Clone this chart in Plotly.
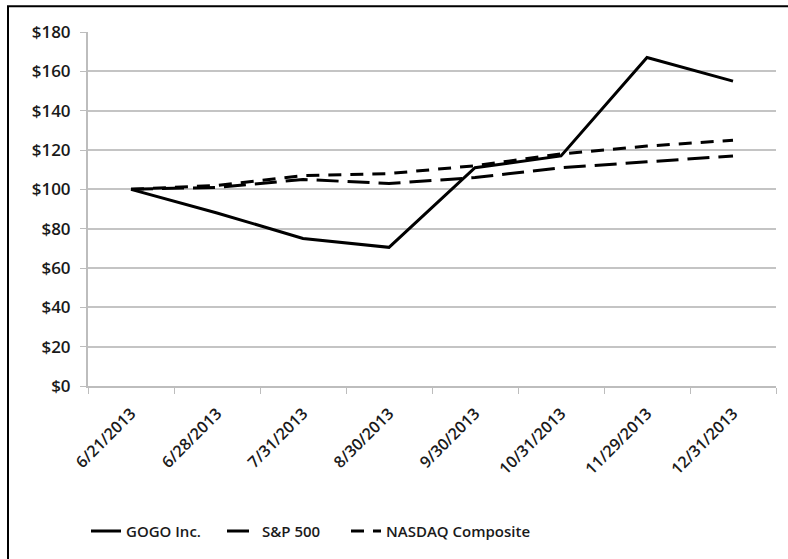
import plotly.graph_objects as go

dates = ["6/21/2013", "6/28/2013", "7/31/2013", "8/30/2013", "9/30/2013",
         "10/31/2013", "11/29/2013", "12/31/2013"]
gogo = [100, 88, 75, 70.5, 111, 117, 167, 155]
sp500 = [100, 101, 105, 103, 106, 111, 114, 117]
nasdaq = [100, 102, 107, 108, 112, 118, 122, 125]
y_ticks = [0, 20, 40, 60, 80, 100, 120, 140, 160, 180]
y_labels = ["$" + str(v) for v in y_ticks]

FONT = "Open Sans"
PLOT_L, PLOT_W = 88, 688

fig = go.Figure()
fig.add_trace(go.Scatter(x=dates, y=gogo, name="GOGO Inc.", mode="lines",
                         line=dict(color="black", width=3), legend="legend"))
fig.add_trace(go.Scatter(x=dates, y=sp500, name="S&P 500", mode="lines",
                         line=dict(color="black", width=3, dash="22px,9px"),
                         legend="legend2"))
fig.add_trace(go.Scatter(x=dates, y=nasdaq, name="NASDAQ Composite", mode="lines",
                         line=dict(color="black", width=3, dash="13px,9px"),
                         legend="legend3"))

def leg(px_left):
    return dict(orientation="h", x=(px_left - 7 - PLOT_L) / PLOT_W, xanchor="left",
                y=-0.41, yanchor="middle",
                font=dict(size=15, color="#1a1a1a", weight=600),
                bgcolor="rgba(0,0,0,0)")

fig.update_layout(
    width=788, height=559,
    margin=dict(l=88, r=12, t=32, b=168),
    paper_bgcolor="white", plot_bgcolor="white",
    font=dict(family=FONT, size=15, color="#1a1a1a"),
    showlegend=True,
    legend=leg(93), legend2=leg(229), legend3=leg(353),
    xaxis=dict(type="category", tickangle=-45, showgrid=False, automargin=False,
               showline=True, linecolor="#bdbdbd", linewidth=2,
               ticks="outside", tickson="boundaries", ticklen=6, tickcolor="#bdbdbd",
               tickwidth=1, tickfont=dict(size=16, color="#1a1a1a", weight=600),
               ticklabelstandoff=10,
               range=[-0.5, 7.5]),
    yaxis=dict(range=[0, 180], tickvals=y_ticks, ticktext=y_labels, automargin=False,
               showgrid=True, gridcolor="#c4c4c4", gridwidth=2,
               showline=True, linecolor="#bdbdbd", linewidth=2,
               ticks="outside", ticklen=6, tickcolor="#bdbdbd", tickwidth=1,
               ticklabelstandoff=6,
               zeroline=False, tickfont=dict(size=17, color="#1a1a1a", weight=600)),
    shapes=[dict(type="rect", xref="paper", yref="paper",
                 x0=-80/688, x1=1.1, y0=-0.6, y1=(391-6)/359,
                 line=dict(color="black", width=2), layer="above")],
)

fig.write_html("out.html")
